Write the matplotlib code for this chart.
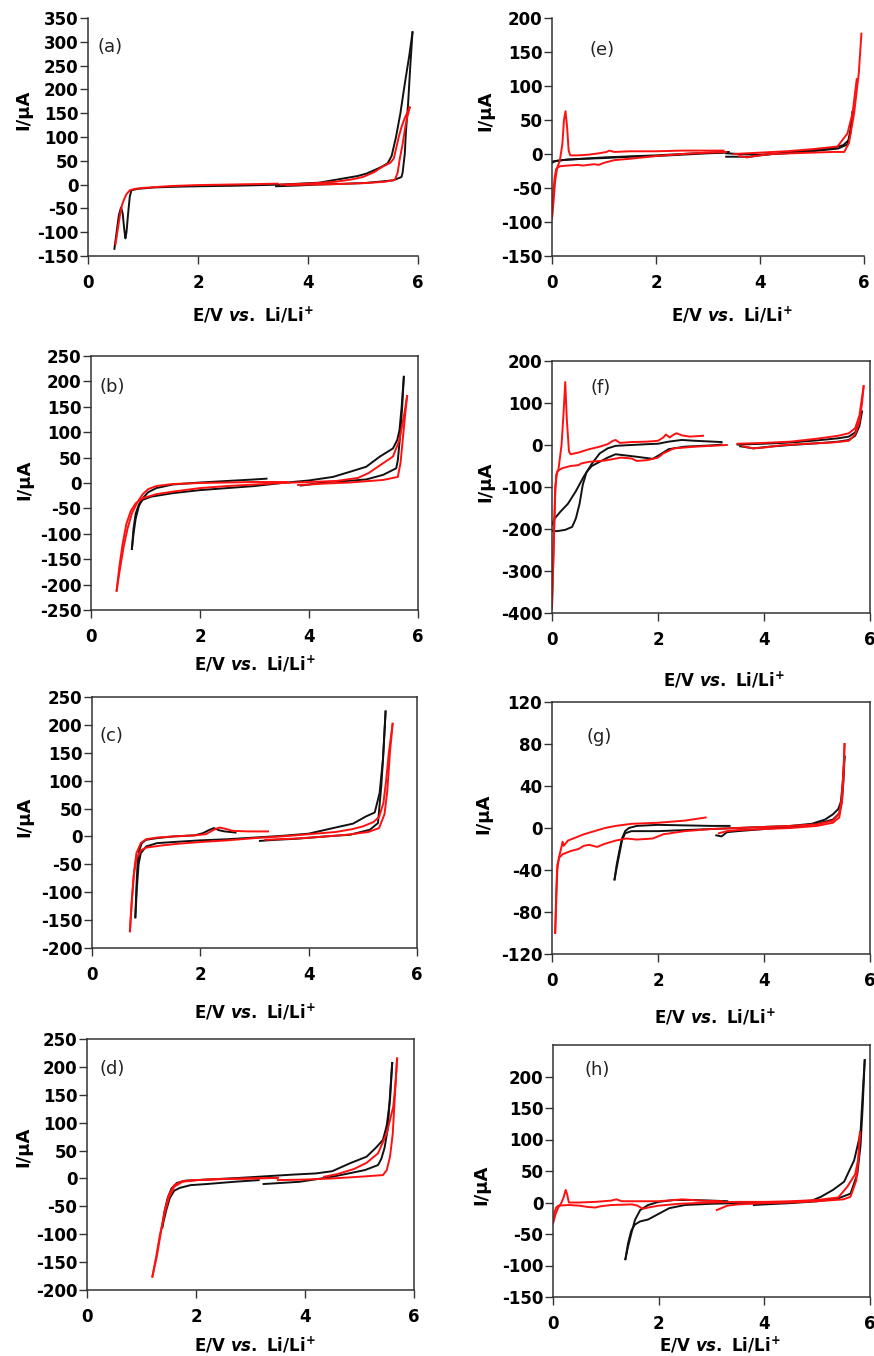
import matplotlib
matplotlib.use("Agg")
import matplotlib.pyplot as plt
import numpy as np

plt.rcParams['font.family'] = ['DejaVu Sans']
plt.rcParams['font.weight'] = 'bold'
plt.rcParams['axes.unicode_minus'] = False
plt.rcParams['mathtext.fontset'] = 'custom'
plt.rcParams['mathtext.rm'] = 'DejaVu Sans:bold'
plt.rcParams['mathtext.bf'] = 'DejaVu Sans:bold'
plt.rcParams['mathtext.it'] = 'DejaVu Sans:italic:bold'

# ---------------- data (E / V, I / uA) ----------------
# panel (a)
a_black_1 = [(0.48,-135),(0.52,-100),(0.56,-65),(0.60,-48),(0.63,-60),(0.66,-95),(0.68,-113),(0.70,-100),
             (0.73,-60),(0.76,-25),(0.79,-12),(0.9,-9),(1.2,-6),(1.6,-4.5),(2.0,-3.5),(2.6,-2.5),(3.0,-1.5),
             (3.5,0),(3.85,2),(4.2,4),(4.45,9),(4.7,14),(4.9,18),(5.06,23),(5.2,30),(5.35,38),(5.45,45),
             (5.52,60),(5.6,100),(5.68,150),(5.76,212),(5.84,270),(5.9,320)]
a_black_2 = [(5.9,320),(5.86,250),(5.82,170),(5.78,110),(5.76,65),(5.72,25),(5.7,16),(5.55,9),(5.06,3.5),
             (4.6,1.5),(4.15,0),(3.8,-2),(3.42,-3.5)]
a_red_1 = [(0.5,-125),(0.54,-95),(0.58,-65),(0.62,-42),(0.66,-30),(0.7,-20),(0.76,-12),(0.85,-9),(1.0,-7),
           (1.5,-3),(2.0,-1),(3.0,1),(3.45,2)]
a_red_2 = [(3.5,0),(4.0,2),(4.5,6),(4.8,11),(5.0,16),(5.2,26),(5.36,38),(5.5,46),(5.56,55),(5.6,75),
           (5.65,100),(5.7,121),(5.76,140),(5.85,162)]
a_red_3 = [(5.85,162),(5.8,140),(5.76,115),(5.72,85),(5.67,55),(5.63,25),(5.58,10),(5.4,6),(5.0,3),
           (4.5,1),(4.0,0),(3.6,-1)]

# panel (b)
b_black_1 = [(3.22,8.5),(3.0,7),(2.5,4),(2.0,1),(1.5,-3),(1.2,-10),(1.05,-18),(0.95,-30),(0.88,-45),
             (0.82,-70),(0.78,-100),(0.75,-130)]
b_black_2 = [(0.75,-130),(0.78,-90),(0.82,-60),(0.88,-42),(0.95,-33),(1.1,-27),(1.5,-20),(2.0,-14),
             (2.5,-10),(3.0,-6),(3.5,0),(4.0,5),(4.44,12),(4.75,22),(5.05,32),(5.3,52),(5.54,68),
             (5.62,85),(5.66,104),(5.7,150),(5.74,209)]
b_black_3 = [(5.74,209),(5.71,150),(5.67,90),(5.63,45),(5.6,29),(5.36,16),(5.05,7),(4.7,4),(4.3,2),
             (4.0,-3),(3.85,-5)]
b_red_1 = [(3.6,2),(3.0,2),(2.5,1),(2.0,0),(1.5,-2),(1.2,-6),(1.05,-12),(0.95,-22),(0.85,-38),
           (0.75,-60),(0.67,-90),(0.6,-125),(0.53,-170),(0.47,-212)]
b_red_2 = [(0.47,-212),(0.52,-165),(0.58,-120),(0.65,-80),(0.73,-55),(0.82,-40),(0.95,-30),(1.2,-22),
           (1.5,-17),(2.0,-10),(2.5,-6),(3.0,-3),(3.5,0),(4.0,2),(4.5,4),(4.9,10),(5.1,20),(5.36,39),
           (5.54,52),(5.66,85),(5.75,137),(5.8,171)]
b_red_3 = [(5.8,171),(5.76,130),(5.72,85),(5.68,40),(5.63,12),(5.36,6),(4.75,1),(4.3,-1),(4.0,-3),
           (3.8,-4)]

# panel (c)
c_black_1 = [(2.65,7),(2.45,9),(2.35,11),(2.25,15),(2.15,11),(2.05,6),(1.9,2),(1.5,0),(1.2,-3),
             (1.0,-6),(0.92,-12),(0.87,-25),(0.84,-50),(0.82,-90),(0.8,-145)]
c_black_2 = [(0.8,-145),(0.83,-90),(0.86,-50),(0.9,-30),(1.0,-18),(1.2,-12),(1.5,-10),(2.0,-7),
             (2.5,-5),(3.0,-2),(3.5,1),(4.0,5),(4.45,15),(4.82,23),(5.06,36),(5.22,43),(5.31,78),
             (5.37,137),(5.42,224)]
c_black_3 = [(5.42,224),(5.38,150),(5.34,90),(5.28,24),(5.13,12),(4.76,3),(4.3,0),(3.8,-4),(3.4,-6),
             (3.1,-8)]
c_red_1 = [(3.25,9),(2.9,9),(2.6,10),(2.45,14),(2.35,16),(2.25,12),(2.1,4),(1.9,2),(1.5,0),(1.2,-2),
           (1.0,-5),(0.9,-12),(0.82,-30),(0.78,-60),(0.74,-110),(0.7,-170)]
c_red_2 = [(0.7,-170),(0.73,-120),(0.77,-70),(0.82,-40),(0.9,-25),(1.0,-20),(1.3,-16),(1.6,-13),
           (2.0,-10),(2.5,-7),(3.0,-3),(3.5,0),(4.0,4),(4.5,8),(4.8,13),(5.0,18),(5.2,26),(5.3,35),
           (5.38,60),(5.43,100),(5.48,150),(5.55,202)]
c_red_3 = [(5.55,202),(5.5,150),(5.45,80),(5.4,40),(5.3,15),(5.1,8),(4.7,3),(4.2,-1),(3.7,-4),(3.2,-6)]

# panel (d)
d_black_1 = [(3.15,-3),(2.7,-6),(2.2,-10),(1.9,-12),(1.7,-17),(1.6,-22),(1.52,-35),(1.46,-55),
             (1.41,-75),(1.38,-88)]
d_black_2 = [(1.38,-88),(1.42,-60),(1.48,-35),(1.55,-18),(1.65,-8),(1.8,-4),(2.2,-2),(2.8,1),(3.3,4),
             (3.8,7),(4.2,9),(4.5,13),(4.82,27),(5.13,39),(5.3,55),(5.43,69),(5.5,95),(5.56,141),
             (5.6,207)]
d_black_3 = [(5.6,207),(5.56,150),(5.52,90),(5.46,55),(5.4,35),(5.34,24),(5.1,15),(4.5,3),(3.9,-6),
             (3.24,-10)]
d_red_1 = [(3.5,1),(3.0,0),(2.5,-1),(2.0,-3),(1.75,-5),(1.6,-12),(1.5,-30),(1.42,-60),(1.35,-100),
           (1.28,-140),(1.2,-176)]
d_red_2 = [(1.2,-176),(1.27,-140),(1.34,-100),(1.42,-65),(1.5,-35),(1.6,-15),(1.75,-6),(2.0,-3),
           (2.5,-1),(3.0,0),(3.5,1)]
d_red_3 = [(4.35,3),(4.6,8),(4.9,17),(5.13,28),(5.34,45),(5.5,81),(5.62,129),(5.66,170),(5.69,215)]
d_red_4 = [(5.69,215),(5.65,150),(5.61,80),(5.56,39),(5.5,15),(5.43,6),(5.0,3),(4.5,0),(4.0,-2),
           (3.5,-3)]

# panel (e)
e_black_1 = [(0.0,-13),(0.05,-11),(0.1,-10),(0.3,-8),(0.6,-7),(1.0,-5),(1.5,-3.5),(2.0,-2),(2.5,0),
             (3.0,2),(3.4,3)]
e_black_2 = [(0.0,-11),(0.2,-9),(0.6,-7),(1.0,-6),(1.5,-4),(2.0,-3),(2.5,-1),(3.0,1),(3.35,2)]
e_black_3 = [(3.35,-4),(3.8,-4),(4.0,-2),(4.5,2),(5.0,6),(5.4,9),(5.6,13),(5.7,20),(5.75,40),(5.78,62)]
e_black_4 = [(5.78,62),(5.74,30),(5.68,14),(5.5,8),(5.0,4),(4.5,1),(4.0,-1),(3.6,0),(3.35,1)]
e_red_1 = [(0.0,-95),(0.03,-70),(0.06,-40),(0.1,-20),(0.15,-10),(0.2,15),(0.23,50),(0.26,63),
           (0.29,40),(0.32,5),(0.35,-2),(0.5,-2),(0.7,-1),(0.9,1),(1.05,3),(1.1,5),(1.15,4),(1.2,3),
           (1.5,4),(2.0,4),(2.5,5),(3.0,5),(3.3,5)]
e_red_2 = [(0.0,-95),(0.02,-60),(0.05,-35),(0.08,-22),(0.15,-18),(0.3,-17),(0.5,-16),(0.6,-17),
           (0.8,-15),(0.9,-16),(1.0,-13),(1.2,-9),(1.5,-7),(2.0,-3),(2.5,0),(3.0,2),(3.35,3)]
e_red_3 = [(3.6,-3),(3.75,-5),(3.9,-3),(4.2,0),(4.6,1),(5.0,2),(5.4,3),(5.62,3),(5.71,16),(5.81,60),
           (5.9,119),(5.95,177)]
e_red_4 = [(3.5,0),(4.0,2),(4.5,4),(5.0,7),(5.49,11),(5.68,30),(5.78,60),(5.86,110)]

# panel (f)
f_black_1 = [(0.0,-205),(0.1,-205),(0.25,-202),(0.38,-195),(0.45,-175),(0.52,-140),(0.58,-95),
             (0.65,-65),(0.75,-50),(0.9,-40),(1.05,-30),(1.2,-22),(1.4,-25),(1.6,-28),(1.9,-33),
             (2.05,-22),(2.2,-10),(2.5,-4),(3.0,-1),(3.2,1)]
f_black_2 = [(0.0,-190),(0.05,-175),(0.15,-160),(0.3,-140),(0.45,-110),(0.6,-75),(0.75,-45),
             (0.9,-20),(1.05,-8),(1.2,-2),(1.5,0),(1.8,2),(2.0,3),(2.2,8),(2.45,12),(2.7,10),(3.2,7)]
f_black_3 = [(3.55,-3),(3.8,-8),(4.1,-4),(4.5,0),(5.0,4),(5.4,8),(5.6,12),(5.72,22),(5.8,45),(5.85,80)]
f_black_4 = [(3.5,1),(4.0,3),(4.5,6),(5.0,11),(5.4,16),(5.6,20),(5.72,30),(5.8,55)]
f_red_1 = [(0.0,-390),(0.02,-300),(0.04,-200),(0.06,-120),(0.08,-70),(0.12,-60),(0.18,0),(0.22,80),
           (0.25,150),(0.28,60),(0.32,-15),(0.35,-22),(0.5,-18),(0.7,-10),(0.9,-4),(1.05,2),(1.15,10),
           (1.2,12),(1.28,5),(1.5,7),(1.8,8),(2.0,10),(2.1,18),(2.15,25),(2.22,18),(2.3,25),
           (2.35,28),(2.45,23),(2.6,20),(2.85,22)]
f_red_2 = [(0.0,-380),(0.03,-250),(0.06,-100),(0.1,-62),(0.2,-55),(0.35,-50),(0.5,-48),(0.55,-44),
           (0.7,-40),(1.0,-37),(1.3,-30),(1.5,-32),(1.6,-38),(1.8,-36),(2.0,-30),(2.1,-20),(2.3,-8),
           (2.7,-4),(3.0,-2),(3.3,0)]
f_red_3 = [(3.6,-3),(3.8,-8),(4.0,-6),(4.3,-1),(4.8,3),(5.3,6),(5.6,10),(5.72,25),(5.8,55),
           (5.85,100),(5.88,140)]
f_red_4 = [(3.5,3),(4.0,5),(4.5,8),(5.0,15),(5.4,22),(5.6,28),(5.72,40),(5.8,70),(5.88,140)]

# panel (g)
g_black_1 = [(3.35,2),(3.0,2),(2.5,2.5),(2.0,3),(1.6,2),(1.45,0),(1.38,-3),(1.32,-10),(1.27,-22),
             (1.22,-35),(1.18,-49)]
g_black_2 = [(1.18,-49),(1.22,-38),(1.27,-25),(1.32,-12),(1.38,-5),(1.5,-3),(2.0,-3),(2.5,-2),
             (3.0,-1),(3.5,0),(4.0,1),(4.5,2),(4.9,4),(5.15,8),(5.3,13),(5.4,18),(5.45,25),(5.48,40),
             (5.5,55),(5.52,68)]
g_black_3 = [(5.52,68),(5.5,45),(5.47,25),(5.42,14),(5.3,8),(5.0,4),(4.5,1),(4.0,-1),(3.5,-3),
             (3.3,-4),(3.2,-8),(3.1,-7)]
g_red_1 = [(2.9,10),(2.5,7),(2.0,5),(1.5,4),(1.2,2),(1.0,0),(0.8,-3),(0.6,-6),(0.45,-9),(0.3,-12),
           (0.22,-17),(0.2,-13),(0.17,-20),(0.13,-28),(0.1,-40),(0.08,-70),(0.06,-100)]
g_red_2 = [(0.06,-100),(0.08,-60),(0.1,-35),(0.14,-28),(0.2,-25),(0.35,-22),(0.5,-20),(0.6,-17),
           (0.7,-16),(0.85,-18),(1.0,-15),(1.2,-12),(1.4,-10),(1.6,-11),(1.9,-10),(2.1,-6),(2.5,-3),
           (3.0,-1),(3.5,0),(4.0,1),(4.5,2),(5.0,3.5),(5.3,7),(5.42,14),(5.47,30),(5.5,55),(5.52,80)]
g_red_3 = [(5.52,80),(5.5,50),(5.47,25),(5.42,10),(5.3,5),(5.0,2),(4.5,0),(4.0,-1),(3.5,-2),(3.3,-3),
           (3.15,-5)]

# panel (h)
h_black_1 = [(3.3,2),(3.0,3),(2.6,4),(2.3,4),(2.0,1),(1.8,-4),(1.65,-12),(1.55,-28),(1.48,-50),
             (1.42,-70),(1.37,-90)]
h_black_2 = [(1.37,-90),(1.42,-65),(1.48,-45),(1.55,-35),(1.65,-30),(1.8,-27),(2.0,-18),(2.2,-9),
             (2.5,-4),(3.0,-2),(3.5,-1),(4.0,0),(4.5,1),(4.9,3),(5.07,9),(5.3,20),(5.51,33),(5.7,67),
             (5.82,110),(5.86,170),(5.9,226)]
h_black_3 = [(5.9,226),(5.86,150),(5.82,90),(5.76,45),(5.63,14),(5.38,6),(5.0,2),(4.5,-1),(4.0,-3),
             (3.8,-4)]
h_red_1 = [(3.2,2),(2.8,3),(2.45,5),(2.3,4),(2.0,2),(1.5,2),(1.3,2),(1.2,5),(1.1,3),(0.8,1),(0.5,0),
           (0.3,0),(0.27,12),(0.24,20),(0.2,8),(0.15,-2),(0.1,-8),(0.05,-18),(0.0,-33)]
h_red_2 = [(0.0,-33),(0.03,-15),(0.06,-8),(0.1,-5),(0.3,-4),(0.5,-5),(0.65,-7),(0.8,-8),(0.9,-6),
           (1.1,-4),(1.5,-3),(1.6,-5),(1.7,-10),(1.8,-8),(2.0,-5),(2.4,-2),(3.0,0),(3.5,1),(4.0,1),
           (4.5,2),(5.0,4),(5.4,8),(5.57,25),(5.72,45),(5.78,70),(5.81,112)]
h_red_3 = [(5.81,112),(5.78,70),(5.74,35),(5.63,9),(5.5,5),(5.0,2),(4.5,0),(4.0,-1),(3.5,-3),
           (3.3,-5),(3.1,-12)]

# axis limits and tick values
a_yticks = [-150, -100, -50, 0, 50, 100, 150, 200, 250, 300, 350]
b_yticks = [-250, -200, -150, -100, -50, 0, 50, 100, 150, 200, 250]
c_yticks = [-200, -150, -100, -50, 0, 50, 100, 150, 200, 250]
d_yticks = [-200, -150, -100, -50, 0, 50, 100, 150, 200, 250]
e_yticks = [-150, -100, -50, 0, 50, 100, 150, 200]
f_yticks = [-400, -300, -200, -100, 0, 100, 200]
g_yticks = [-120, -80, -40, 0, 40, 80, 120]
h_yticks = [-150, -100, -50, 0, 50, 100, 150, 200]
x_ticks = [0, 2, 4, 6]

BLACK = '#111111'
RED = '#ff1010'
SPINE = '#333333'
W, H = 874, 1356

fig = plt.figure(figsize=(W / 100, H / 100), dpi=100)

xlabel_text = r'$\mathrm{E/V}\ \mathit{vs.}\ \mathrm{Li/Li^{+}}$'

panels = [
    # name, black segs, red segs, yticks, ylim, box(px: left,right,top,bottom), boxed,
    # label pos (frac), xlabel center px, ylabel (right px, center px)
    ('(a)', [a_black_1, a_black_2], [a_red_1, a_red_2, a_red_3], a_yticks, (-150, 350),
     (88, 418, 18, 256), False, (0.03, 0.878), (253, 313), (32, 110)),
    ('(b)', [b_black_1, b_black_2, b_black_3], [b_red_1, b_red_2, b_red_3], b_yticks, (-250, 250),
     (91, 418, 356, 610), True, (0.025, 0.878), (255, 662), (33, 480)),
    ('(c)', [c_black_1, c_black_2, c_black_3], [c_red_1, c_red_2, c_red_3], c_yticks, (-200, 250),
     (92, 417, 697, 948), True, (0.022, 0.845), (255, 1010), (33, 817)),
    ('(d)', [d_black_1, d_black_2, d_black_3], [d_red_1, d_red_2, d_red_3, d_red_4], d_yticks, (-200, 250),
     (87, 414, 1039, 1290), True, (0.037, 0.88), (255, 1343), (32, 1147)),
    ('(e)', [e_black_1, e_black_2, e_black_3, e_black_4], [e_red_1, e_red_2, e_red_3, e_red_4], e_yticks,
     (-150, 200), (552, 864, 18, 256), False, (0.12, 0.866), (732, 313), (494, 111)),
    ('(f)', [f_black_1, f_black_2, f_black_3, f_black_4], [f_red_1, f_red_2, f_red_3, f_red_4], f_yticks,
     (-400, 200), (552, 870, 361, 613), True, (0.12, 0.893), (724, 678), (494, 482)),
    ('(g)', [g_black_1, g_black_2, g_black_3], [g_red_1, g_red_2, g_red_3], g_yticks, (-120, 120),
     (552, 870, 702, 954), True, (0.107, 0.861), (715, 1015), (492, 814)),
    ('(h)', [h_black_1, h_black_2, h_black_3], [h_red_1, h_red_2, h_red_3], h_yticks, (-150, 250),
     (553, 870, 1045, 1297), True, (0.10, 0.90), (720, 1343), (490, 1185)),
]

for (name, blacks, reds, yt, ylim, box, boxed, lpos, xl, yl) in panels:
    l, r, t, b = box
    ax = fig.add_axes([l / W, 1 - b / H, (r - l) / W, (b - t) / H])
    for seg in blacks:
        pts = np.array(seg)
        ax.plot(pts[:, 0], pts[:, 1], color=BLACK, lw=1.4, solid_joinstyle='round')
    for seg in reds:
        pts = np.array(seg)
        ax.plot(pts[:, 0], pts[:, 1], color=RED, lw=1.4, solid_joinstyle='round')
    ax.set_xlim(0, 6)
    ax.set_ylim(*ylim)
    ax.set_xticks(x_ticks)
    ax.set_yticks(yt)
    ax.tick_params(axis='both', direction='out', length=6, width=1.0, color=SPINE, labelsize=12)
    ax.tick_params(axis='y', pad=1)
    ax.tick_params(axis='x', pad=7)
    for s in ['left', 'bottom', 'top', 'right']:
        ax.spines[s].set_color(SPINE)
        ax.spines[s].set_linewidth(1.1)
    if not boxed:
        ax.spines['top'].set_visible(False)
        ax.spines['right'].set_visible(False)
    ax.text(lpos[0], lpos[1], name, transform=ax.transAxes, fontsize=13, fontweight='normal',
            ha='left', va='center', color='#222222')
    # x label
    ax.set_xlabel(xlabel_text, fontsize=12)
    ax.xaxis.set_label_coords((xl[0] - l) / (r - l), -((xl[1] - 8) - b) / (b - t))
    # y label
    ax.set_ylabel('I/µA', fontsize=13, fontweight='bold')
    ax.yaxis.set_label_coords((yl[0] - l) / (r - l), (b - yl[1]) / (b - t))

fig.savefig('out.png', dpi=100)
